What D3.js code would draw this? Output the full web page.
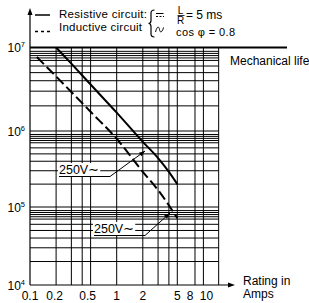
<!DOCTYPE html>
<html><head><meta charset="utf-8">
<script src="https://cdn.jsdelivr.net/npm/d3@7"></script>
<style>html,body{margin:0;padding:0;background:#fff}svg{display:block}text{font-family:"Liberation Sans",Arial,sans-serif;fill:#000}</style>
</head><body><svg id="c" width="309" height="303"></svg>
<script>
// ---- data ----
const resistiveX = [0.2, 0.3, 0.5, 1, 2, 3, 4, 5];
const resistiveY = [1e7, 6.4e6, 3.6e6, 1.66e6, 7.2e5, 4.4e5, 2.9e5, 2.0e5];
const inductiveX = [0.12, 0.2, 0.5, 1, 2, 3, 5];
const inductiveY = [7.7e6, 4.5e6, 1.7e6, 7.9e5, 2.9e5, 1.67e5, 7.2e4];
const mechanicalLife = 1e7;
const xTickLabels = [0.1, 0.2, 0.5, 1, 2, 5, 8, 10];
const xGridValues = [0.2, 0.3, 0.4, 0.5, 1, 2, 3, 4, 5, 8, 10, 15];
const yDecades = [1e4, 1e5, 1e6, 1e7];
const yDecadeExp = [4, 5, 6, 7];
const yMinorFactors = [2, 3, 4, 5, 6, 7, 7.5, 8, 8.5, 9];
const xMax = 15;

// ---- scales ----
const x = d3.scaleLog().domain([0.1, 10]).range([30, 203.4]);
const y = d3.scaleLog().domain([1e4, 1e5, 1e6, 1e7]).range([285, 207, 131, 47.5]);

const svg = d3.select("#c");
const g = svg.append("g");

// horizontal grid
const hVals = [];
[1e4, 1e5, 1e6].forEach(d => { yMinorFactors.forEach(f => hVals.push(d * f)); });
hVals.push(1e5, 1e6);
g.selectAll("line.h").data(hVals).enter().append("line")
  .attr("x1", x(0.1)).attr("x2", x(xMax)).attr("y1", d => y(d)).attr("y2", d => y(d))
  .attr("stroke", "#000").attr("stroke-width", 1);
// vertical grid
g.selectAll("line.v").data(xGridValues).enter().append("line")
  .attr("x1", d => x(d)).attr("x2", d => x(d)).attr("y1", y(1e7)).attr("y2", y(1e4))
  .attr("stroke", "#000").attr("stroke-width", 1);
// mechanical life line
g.append("line").attr("x1", x(0.1)).attr("x2", 287).attr("y1", y(mechanicalLife)).attr("y2", y(mechanicalLife))
  .attr("stroke", "#000").attr("stroke-width", 2);

// axes
g.append("line").attr("x1", x(0.1)).attr("x2", x(0.1)).attr("y1", y(1e4)).attr("y2", 12)
  .attr("stroke", "#000").attr("stroke-width", 1.2);
g.append("path").attr("d", `M${x(0.1)},8 L${x(0.1)-2.5},15 L${x(0.1)+2.5},15 Z`).attr("fill", "#000");
g.append("line").attr("x1", x(0.1)).attr("x2", 230).attr("y1", y(1e4)).attr("y2", y(1e4))
  .attr("stroke", "#000").attr("stroke-width", 1.2);
g.append("path").attr("d", `M235,${y(1e4)} L228,${y(1e4)-2.5} L228,${y(1e4)+2.5} Z`).attr("fill", "#000");

// x tick labels (small nudges where labels crowd)
const labelNudge = {0.2: -1.5, 0.5: -3, 8: -5, 10: 3};
g.selectAll("text.xt").data(xTickLabels).enter().append("text")
  .attr("x", d => x(d) + (labelNudge[d] || 0)).attr("y", 300).attr("text-anchor", "middle")
  .attr("font-size", 12).text(d => d);
// y labels
yDecades.forEach((d, i) => {
  const t = g.append("text").attr("x", 25).attr("y", y(d) + 4.5).attr("text-anchor", "end").attr("font-size", 12);
  t.append("tspan").text("10");
  t.append("tspan").attr("font-size", 7.5).attr("dy", -5).text(yDecadeExp[i]);
});

// curves
const line = d3.line().x(d => x(d[0])).y(d => y(d[1])).curve(d3.curveMonotoneX);
g.append("path").attr("d", line(resistiveX.map((v, i) => [v, resistiveY[i]])))
  .attr("fill", "none").attr("stroke", "#000").attr("stroke-width", 2);
g.append("path").attr("d", line(inductiveX.map((v, i) => [v, inductiveY[i]])))
  .attr("fill", "none").attr("stroke", "#000").attr("stroke-width", 2).attr("stroke-dasharray", "10,4");

// 250V labels with leaders
function label(tx, ty, ux2, tipX, tipY) {
  const txt = g.append("text").attr("x", tx).attr("y", ty).attr("font-size", 12.5).text("250V∼");
  const bb = txt.node().getBBox();
  g.insert("rect", function(){ return txt.node(); }).attr("x", bb.x - 1).attr("y", bb.y).attr("width", bb.width + 2).attr("height", bb.height)
    .attr("fill", "#fff");
  g.append("path").attr("d", `M${tx},${ty+2.5} L${ux2},${ty+2.5} L${tipX},${tipY}`)
    .attr("fill", "none").attr("stroke", "#000").attr("stroke-width", 1);
  const ang = Math.atan2(tipY - (ty+2.5), tipX - ux2);
  const L = 6, W = 2.2;
  const bx = tipX - L*Math.cos(ang), by = tipY - L*Math.sin(ang);
  g.append("path").attr("d", `M${tipX},${tipY} L${bx - W*Math.sin(ang)},${by + W*Math.cos(ang)} L${bx + W*Math.sin(ang)},${by - W*Math.cos(ang)} Z`).attr("fill", "#000");
}
label(59, 174, 110, 145, 151);
label(94, 233, 145, 170, 213);

// text labels
g.append("text").attr("x", 230).attr("y", 64.5).attr("font-size", 12).text("Mechanical life");
g.append("text").attr("x", 243).attr("y", 285).attr("font-size", 12).text("Rating in");
g.append("text").attr("x", 243).attr("y", 298).attr("font-size", 12).text("Amps");

// legend
g.append("line").attr("x1", 35).attr("x2", 50).attr("y1", 15).attr("y2", 15).attr("stroke", "#000").attr("stroke-width", 1.5);
g.append("line").attr("x1", 35).attr("x2", 51).attr("y1", 31.5).attr("y2", 31.5).attr("stroke", "#000").attr("stroke-width", 1.5).attr("stroke-dasharray", "3,3");
g.append("text").attr("x", 59).attr("y", 17.5).attr("font-size", 11.5).attr("textLength", 88).text("Resistive circuit:");
g.append("text").attr("x", 59).attr("y", 30.5).attr("font-size", 11.5).attr("textLength", 83).text("Inductive circuit");
// brace
g.append("path").attr("d", "M154.5,10 Q151,10 151,13 L151,20.5 Q151,23.5 148.5,23.5 Q151,23.5 151,26.5 L151,34 Q151,37 154.5,37")
  .attr("fill", "none").attr("stroke", "#000").attr("stroke-width", 1.2);
// DC symbol
g.append("line").attr("x1", 156).attr("x2", 163.5).attr("y1", 13.5).attr("y2", 13.5).attr("stroke", "#000").attr("stroke-width", 1);
g.append("line").attr("x1", 156).attr("x2", 164).attr("y1", 16.5).attr("y2", 16.5).attr("stroke", "#000").attr("stroke-width", 1).attr("stroke-dasharray", "2,1.5");
// fraction L/R
g.append("text").attr("x", 180.5).attr("y", 13.5).attr("font-size", 10).attr("text-anchor", "middle").text("L");
g.append("line").attr("x1", 177.5).attr("x2", 184.5).attr("y1", 15.5).attr("y2", 15.5).attr("stroke", "#000").attr("stroke-width", 0.8);
g.append("text").attr("x", 180.5).attr("y", 23.5).attr("font-size", 10).attr("text-anchor", "middle").text("R");
g.append("text").attr("x", 186).attr("y", 19).attr("font-size", 12).text("= 5 ms");
// AC symbol
g.append("path").attr("d", "M155.5,32 C157,26 159,26 159.5,29.5 C160,33 162,33 163.5,27.5")
  .attr("fill", "none").attr("stroke", "#000").attr("stroke-width", 1);
g.append("text").attr("x", 176).attr("y", 36).attr("font-size", 11).attr("textLength", 59).text("cos φ = 0.8");
</script></body></html>
